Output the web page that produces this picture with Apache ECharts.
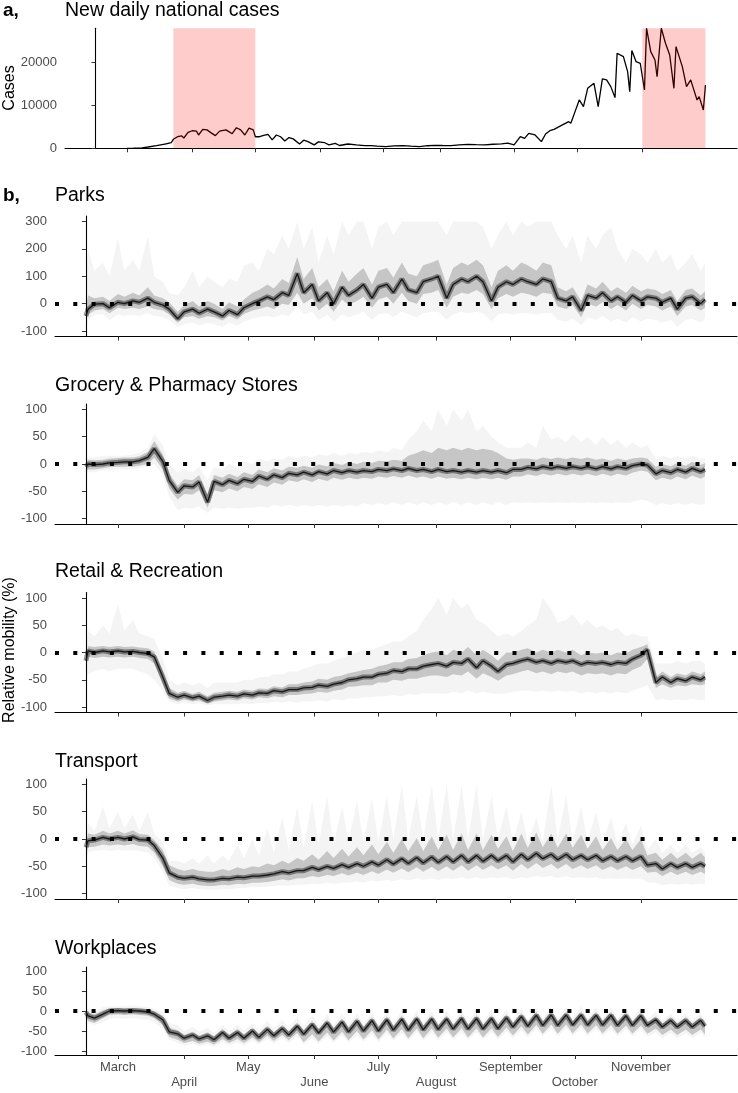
<!DOCTYPE html>
<html><head><meta charset="utf-8">
<script src="https://cdn.jsdelivr.net/npm/echarts@6/dist/echarts.min.js"></script>
<style>html,body{margin:0;padding:0;background:#fff}#c{width:738px;height:1093px}</style>
</head><body><div id="c"></div>
<script>
// ---------- x sampling (day index, 0 = 15 Feb 2020) ----------
const sampleDays = [0,1,4,8,11,15,18,22,25,29,
32,36,39,43,46,50,53,57,60,64,
67,71,74,78,81,85,88,92,95,99,
102,106,109,113,116,120,123,127,130,134,
137,141,144,148,151,155,158,162,165,169,
172,176,179,183,186,190,193,197,200,204,
207,211,214,218,221,225,228,232,235,239,
242,246,249,253,256,260,263,267,270,274,
277,281,284,288,290];
const monthTicks = [15,46,76,107,137,164,199,229,260];
const monthLabels = ['March','April','May','June','July','August','September','October','November'];

// ---------- panel a: national cases ----------
const caseDays = [15,18,22,25,29,33,36,37,39,41,42,44,46,48,49,51,53,55,57,59,62,63,65,67,69,71,73,75,76,78,80,82,84,86,88,90,92,94,97,99,101,104,106,109,111,114,116,120,124,128,131,
134,138,142,146,150,154,158,161,165,169,173,177,181,185,189,193,196,199,202,204,206,209,212,214,216,218,222,225,226,228,230,232,234,237,239,241,243,245,247,248,251,253,254,255,257,259,261,262,264,266,267,269,271,273,275,276,279,281,283,284,286,287,289,290];
const caseValues = [0,20,100,300,600,1000,1300,2100,2700,2900,2400,3700,4100,4000,3100,4400,4300,3600,2950,4000,4300,4000,3400,4800,4300,3100,4700,4300,2700,2700,3000,3250,1950,3100,2700,1700,2500,2200,1000,1900,1550,800,1500,1300,800,1150,650,1000,780,620,620,
500,390,550,620,500,390,600,700,650,620,800,930,850,780,950,1010,1200,780,2720,2330,3500,3110,1560,3350,4120,4430,5450,6220,5835,8560,11280,9725,14000,15170,9725,16180,15950,14390,11825,22170,21400,17900,13225,22800,20230,19840,13600,28000,22560,20600,16700,28000,24500,21780,14000,23730,19060,14400,15950,14400,11280,12060,8950,14780];
const lockdowns = [[37,76],[260,290]];

// ---------- panel b: mobility (median, inner band, outer band) ----------
const parksMed = [-45,-20,-2,0,-15,5,0,10,5,20, 5,-5,-20,-55,-30,-20,-35,-20,-30,-45, -25,-40,-15,0,10,25,15,40,30,110, 40,70,10,40,0,60,30,50,70,20, 60,70,40,90,50,40,80,90,100,20, 70,90,80,100,80,10,60,80,70,90, 80,70,90,80,20,10,25,-25,30,20, 40,10,25,5,30,10,25,20,5,20, -20,20,25,0,15];
const parksInLo = [-60,-40,-25,-20,-35,-15,-20,-15,-20,-10, -20,-25,-40,-70,-50,-45,-55,-45,-50,-62, -45,-58,-38,-25,-20,-10,-20,0,-5,40, 0,20,-25,0,-30,15,-5,10,25,-15, 15,25,0,40,10,0,35,40,50,-15, 25,40,35,50,35,-20,20,35,25,40, 35,25,40,35,-10,-20,-5,-50,0,-10, 5,-20,-5,-25,0,-20,-5,-10,-25,-10, -45,-10,-5,-25,-15];
const parksInHi = [-15,30,20,25,10,35,25,40,30,60, 30,20,5,-30,-5,10,-10,10,0,-20, 5,-10,15,40,50,70,55,90,75,170, 90,130,60,90,45,120,80,110,130,70, 120,130,95,150,110,100,140,150,160,70, 130,150,140,160,140,60,120,140,120,150, 140,120,150,140,60,45,60,10,70,55, 80,45,60,40,65,45,55,50,35,50, 10,50,55,30,45];
const parksOutLo = [-80,-60,-40,-40,-60,-40,-45,-40,-45,-35, -45,-50,-60,-85,-75,-70,-80,-70,-75,-85, -70,-80,-65,-55,-50,-45,-50,-40,-45,-10, -40,-30,-60,-40,-65,-40,-50,-40,-30,-60, -40,-35,-50,-30,-40,-50,-35,-30,-30,-60, -40,-30,-35,-30,-35,-65,-40,-35,-40,-35, -35,-40,-35,-35,-60,-65,-55,-80,-50,-60, -45,-65,-55,-70,-50,-65,-55,-60,-70,-60, -85,-60,-55,-70,-55];
const parksOutHi = [100,200,120,150,100,240,120,160,120,250, 100,80,40,30,60,120,60,100,80,60, 90,80,140,150,120,200,180,250,200,300, 200,280,150,250,180,300,250,300,300,200, 280,300,250,300,300,300,300,300,300,250, 300,300,300,300,280,200,250,300,250,300, 280,300,300,300,250,200,250,150,250,200, 250,280,200,150,200,180,150,200,150,180, 120,150,180,120,150];

const groceryMed = [-5,0,-1,0,2,3,4,4,6,12, 28,5,-30,-52,-40,-42,-33,-70,-32,-38, -30,-36,-28,-32,-22,-28,-20,-25,-17,-20, -15,-20,-14,-18,-12,-16,-12,-15,-12,-14, -10,-12,-9,-12,-8,-12,-10,-14,-10,-14, -12,-15,-12,-15,-12,-15,-12,-16,-10,-10, -6,-9,-5,-8,-5,-8,-5,-8,-5,-9, -5,-9,-5,-8,-3,0,-2,-18,-12,-16, -10,-15,-8,-14,-10];
const groceryInLo = [-15,-10,-10,-8,-6,-5,-5,-5,-3,0, 12,-10,-45,-65,-55,-56,-48,-80,-48,-52, -45,-50,-42,-46,-37,-42,-34,-38,-30,-33, -28,-33,-27,-31,-25,-29,-25,-28,-25,-27, -23,-25,-22,-25,-21,-25,-23,-27,-23,-27, -25,-28,-25,-28,-25,-28,-25,-29,-23,-23, -19,-22,-18,-21,-18,-21,-18,-21,-18,-22, -18,-22,-18,-21,-16,-12,-14,-30,-25,-29, -23,-28,-21,-27,-23];
const groceryInHi = [3,8,7,8,10,11,12,12,14,22, 42,18,-18,-40,-28,-30,-20,-55,-20,-25, -18,-24,-15,-20,-10,-15,-8,-12,-5,-7, -3,-7,-1,-4,2,-2,3,0,4,2, 6,5,8,6,15,20,25,20,30,25, 30,25,30,25,28,25,20,10,8,10, 10,8,12,9,12,9,12,9,12,8, 10,6,10,7,10,12,10,-5,0,-4, 2,-3,4,-2,2];
const groceryOutLo = [-20,-15,-15,-12,-12,-10,-10,-10,-8,-5, 0,-20,-60,-85,-80,-82,-78,-90,-80,-82, -80,-82,-80,-80,-78,-80,-75,-78,-75,-78, -75,-78,-75,-78,-75,-78,-75,-78,-72,-75, -72,-75,-70,-75,-70,-75,-70,-75,-70,-75, -70,-75,-70,-75,-70,-75,-70,-75,-70,-72, -70,-72,-70,-72,-70,-72,-70,-72,-70,-72, -70,-72,-70,-72,-70,-65,-68,-75,-72,-75, -72,-75,-72,-75,-72];
const groceryOutHi = [10,12,12,15,15,15,15,18,20,30, 55,35,0,-15,-10,-15,-5,-30,-5,-10, 0,-5,5,0,10,5,10,8,15,10, 15,12,18,15,20,15,20,18,22,20, 25,22,30,25,45,60,80,60,100,70, 100,80,100,60,70,50,40,30,30,30, 40,30,70,45,50,40,55,40,50,35, 50,35,45,30,40,30,35,10,15,10, 15,10,15,10,10];

const retailMed = [-15,3,0,3,1,3,1,2,0,-2, -8,-45,-75,-82,-78,-83,-80,-88,-82,-80, -78,-80,-76,-78,-74,-75,-70,-72,-68,-68, -65,-64,-60,-62,-58,-55,-50,-48,-45,-45, -40,-38,-33,-35,-30,-30,-25,-22,-20,-25, -18,-20,-12,-28,-15,-25,-35,-22,-20,-15, -12,-18,-15,-20,-15,-18,-15,-22,-18,-20, -18,-22,-18,-20,-12,-5,5,-55,-45,-55, -48,-52,-45,-50,-45];
const retailInLo = [-30,-8,-10,-8,-9,-8,-9,-8,-10,-12, -20,-58,-85,-90,-86,-90,-88,-94,-90,-88, -86,-88,-84,-86,-82,-84,-80,-82,-78,-78, -76,-75,-72,-74,-70,-68,-63,-62,-60,-60, -55,-55,-50,-52,-48,-48,-45,-42,-42,-45, -40,-42,-35,-48,-38,-45,-52,-42,-40,-35, -32,-38,-35,-40,-35,-38,-35,-42,-38,-40, -38,-42,-38,-40,-32,-25,-12,-65,-58,-65, -60,-62,-58,-60,-58];
const retailInHi = [-5,12,10,12,10,12,10,11,9,8, 2,-35,-65,-74,-70,-76,-72,-80,-74,-72, -70,-72,-68,-70,-66,-67,-62,-64,-58,-58, -55,-53,-48,-50,-45,-42,-38,-35,-32,-30, -25,-22,-18,-18,-12,-10,-5,0,2,-5, 5,0,10,-5,5,-5,-15,0,0,5, 8,0,5,0,5,0,5,-5,0,-2, 0,-5,0,-2,5,10,15,-45,-35,-45, -38,-42,-35,-40,-35];
const retailOutLo = [-45,-40,-35,-30,-35,-30,-30,-30,-35,-40, -50,-70,-90,-95,-92,-95,-93,-97,-95,-95, -95,-95,-93,-95,-92,-93,-90,-92,-90,-92, -90,-90,-88,-90,-86,-88,-85,-85,-82,-82, -80,-80,-78,-80,-76,-78,-75,-75,-75,-76, -72,-75,-70,-75,-72,-75,-76,-75,-72,-70, -70,-72,-70,-72,-70,-72,-70,-75,-72,-75, -72,-75,-72,-75,-70,-65,-60,-88,-85,-88, -86,-88,-85,-88,-86];
const retailOutHi = [10,40,30,50,35,90,40,60,35,30, 25,-10,-50,-60,-55,-60,-55,-65,-55,-55, -55,-55,-50,-50,-45,-45,-40,-40,-35,-35, -30,-25,-20,-20,-15,-10,-5,0,5,5, 10,15,20,20,30,40,60,80,100,70, 100,80,90,60,55,40,30,35,30,40, 50,60,100,80,55,60,70,50,60,45, 50,40,45,30,35,30,30,-20,-20,-20, -15,-20,-15,-15,-20];

const transportMed = [-15,-3,-2,3,0,3,0,4,-1,-2, -12,-35,-62,-70,-72,-70,-73,-75,-75,-72, -73,-70,-71,-68,-68,-66,-64,-60,-62,-58, -58,-52,-56,-50,-54,-47,-52,-45,-50,-42, -48,-38,-46,-36,-45,-34,-44,-33,-43,-32, -42,-30,-42,-30,-41,-30,-40,-30,-42,-28, -38,-26,-36,-28,-38,-28,-38,-30,-38,-30, -40,-32,-40,-32,-40,-32,-48,-45,-55,-45, -52,-45,-52,-45,-50];
const transportInLo = [-30,-15,-14,-10,-12,-10,-12,-9,-13,-14, -25,-50,-75,-82,-84,-82,-85,-86,-86,-84, -85,-82,-83,-80,-80,-79,-77,-74,-76,-72, -72,-68,-70,-66,-68,-63,-67,-62,-66,-59, -64,-56,-62,-54,-61,-52,-60,-51,-59,-50, -58,-48,-58,-48,-57,-48,-56,-48,-58,-46, -55,-44,-53,-46,-55,-46,-55,-48,-55,-48, -57,-50,-57,-50,-57,-50,-62,-60,-68,-60, -66,-60,-66,-60,-64];
const transportInHi = [-5,10,8,15,10,15,10,16,9,8, -2,-20,-48,-55,-58,-55,-58,-60,-60,-55, -58,-52,-55,-50,-52,-45,-48,-40,-45,-35, -40,-28,-38,-22,-35,-18,-32,-15,-30,-10, -28,-5,-25,0,-22,2,-22,5,-20,8, -20,10,-20,10,-20,8,-18,5,-22,10, -16,12,-15,10,-16,10,-16,8,-18,5, -20,2,-20,0,-20,0,-30,-25,-38,-25, -36,-25,-36,-25,-34];
const transportOutLo = [-35,-25,-22,-20,-22,-20,-22,-20,-22,-25, -35,-60,-85,-90,-92,-90,-92,-93,-93,-92, -92,-90,-90,-88,-88,-87,-86,-85,-86,-84, -84,-82,-83,-80,-82,-80,-80,-78,-80,-76, -78,-75,-77,-74,-76,-72,-75,-72,-75,-72, -74,-70,-74,-70,-73,-70,-72,-70,-74,-70, -72,-68,-70,-68,-72,-68,-72,-70,-72,-70, -74,-72,-74,-72,-74,-72,-80,-80,-85,-82, -84,-82,-84,-82,-84];
const transportOutHi = [-5,30,15,60,20,50,20,45,15,50, 10,-5,-40,-40,-45,-35,-45,-30,-45,-30, -40,-10,-35,0,-30,20,-25,40,-20,60, -15,70,-10,80,-10,60,-5,70,-5,75, -5,80,0,100,0,80,0,100,0,100, 0,100,0,100,0,80,0,60,-5,50, -5,40,-5,100,0,80,-5,60,-5,50, -5,40,-10,30,-10,25,-20,0,-25,-10, -25,-10,-25,-15,-25];

const workMed = [-3,-12,-18,-8,0,1,0,1,0,-2, -8,-22,-52,-57,-68,-60,-70,-62,-72,-54, -68,-54,-68,-50,-66,-46,-62,-44,-60,-38, -58,-34,-55,-30,-53,-28,-52,-26,-50,-24, -50,-22,-48,-21,-48,-20,-47,-20,-46,-20, -45,-19,-45,-19,-45,-19,-44,-17,-40,-14, -38,-11,-36,-10,-36,-10,-35,-10,-35,-11, -35,-11,-36,-12,-36,-12,-36,-22,-40,-24, -40,-24,-40,-24,-38];
const workInLo = [-15,-25,-30,-18,-10,-8,-10,-8,-10,-12, -18,-35,-65,-72,-80,-75,-82,-77,-84,-70, -80,-70,-80,-66,-78,-62,-75,-60,-73,-55, -78,-58,-76,-54,-74,-52,-73,-50,-71,-48, -71,-46,-69,-45,-69,-44,-68,-44,-67,-44, -66,-43,-66,-43,-66,-43,-65,-41,-61,-38, -59,-35,-57,-34,-57,-34,-56,-34,-56,-35, -56,-35,-57,-36,-57,-36,-57,-44,-60,-46, -60,-46,-60,-46,-58];
const workInHi = [5,-3,-8,2,6,7,6,7,6,5, -1,-12,-42,-48,-60,-52,-62,-53,-63,-45, -60,-45,-60,-41,-58,-37,-54,-35,-52,-29, -50,-25,-47,-21,-45,-19,-44,-17,-42,-15, -42,-13,-40,-12,-40,-11,-39,-11,-38,-11, -37,-10,-37,-10,-37,-10,-36,-8,-32,-5, -30,-2,-28,-1,-28,-1,-27,-1,-27,-2, -27,-2,-28,-3,-28,-3,-28,-13,-32,-15, -32,-15,-32,-15,-30];
const workOutLo = [-25,-30,-35,-28,-20,-18,-20,-18,-20,-22, -28,-45,-72,-80,-86,-82,-88,-84,-90,-78, -86,-78,-86,-74,-84,-70,-82,-68,-80,-64, -84,-68,-82,-64,-80,-62,-79,-60,-77,-58, -77,-56,-75,-55,-75,-54,-74,-54,-73,-54, -72,-53,-72,-53,-72,-53,-71,-51,-68,-48, -66,-45,-64,-44,-64,-44,-63,-44,-63,-45, -63,-45,-64,-46,-64,-46,-64,-53,-68,-55, -68,-55,-68,-55,-66];
const workOutHi = [10,5,0,10,12,12,12,14,12,10, 5,-2,-30,-35,-50,-40,-52,-42,-55,-35, -50,-35,-50,-30,-48,-25,-45,-22,-42,-15, -40,-10,-38,-8,-36,-6,-35,-5,-33,-3, -33,0,-31,0,-31,2,-30,2,-29,2, -28,3,-28,3,-28,3,-27,5,-24,8, -22,10,-20,10,-20,10,-19,12,-19,10, -19,10,-20,8,-20,8,-20,-2,-25,-5, -25,-5,-25,-5,-22];

const panelTitles = ['Parks','Grocery & Pharmacy Stores','Retail & Recreation','Transport','Workplaces'];
const parksTicks = [-100,0,100,200,300];
const otherTicks = [-100,-50,0,50,100];

// ---------- build ----------
const FONT = '"Liberation Sans", Arial, Helvetica, sans-serif';
const panels = [
  {med:parksMed, ilo:parksInLo, ihi:parksInHi, lo:parksOutLo, hi:parksOutHi, ticks:parksTicks, min:-120, max:320, top:216, h:120.5},
  {med:groceryMed, ilo:groceryInLo, ihi:groceryInHi, lo:groceryOutLo, hi:groceryOutHi, ticks:otherTicks, min:-110, max:110, top:404, h:120},
  {med:retailMed, ilo:retailInLo, ihi:retailInHi, lo:retailOutLo, hi:retailOutHi, ticks:otherTicks, min:-110, max:110, top:592.5, h:120},
  {med:transportMed, ilo:transportInLo, ihi:transportInHi, lo:transportOutLo, hi:transportOutHi, ticks:otherTicks, min:-110, max:110, top:779, h:120},
  {med:workMed, ilo:workInLo, ihi:workInHi, lo:workOutLo, hi:workOutHi, ticks:otherTicks, min:-110, max:110, top:967, h:88}
];
const titleY = [196, 385.5, 572, 761.5, 949];

const pts = v => sampleDays.map((d,i)=>[d, v[i]]);

const axisLineStyle = {color:'#000', width:1.1};
const tickStyle = {color:'#333', width:1};
const labelStyle = {color:'#4d4d4d', fontSize:13, fontFamily:FONT};

const grids = [{left:65, width:672, top:28.3, height:120}];
const xAxes = [], yAxes = [], series = [];
const XMIN = -14.5, XMAX = 305;

function xAxisFor(g, showLabels){
  return {type:'value', gridIndex:g, min:XMIN, max:XMAX,
    axisLine:{show:true, onZero:false, lineStyle:axisLineStyle},
    axisTick:{show:true, customValues:monthTicks, length:4, lineStyle:tickStyle},
    axisLabel:{show:showLabels, customValues:monthTicks, margin:5, lineHeight:15, ...labelStyle,
      formatter:v=>{const i = monthTicks.findIndex(t=>Math.abs(t-v)<0.01); if(i<0) return ''; return i%2 ? '\n'+monthLabels[i] : monthLabels[i];}},
    splitLine:{show:false}};
}
function bandSeries(g, lo, hi, color){
  return {type:'custom', xAxisIndex:g, yAxisIndex:g, silent:true, z:1, clip:true,
    data:[[sampleDays[0], lo[0]]],
    renderItem:(params, api)=>{
      const up = sampleDays.map((d,i)=>api.coord([d, hi[i]]));
      const dn = sampleDays.map((d,i)=>api.coord([d, lo[i]])).reverse();
      return {type:'polygon', shape:{points:up.concat(dn)}, style:{fill:color}};
    }};
}
xAxes.push(xAxisFor(0,false));
yAxes.push({type:'value', gridIndex:0, min:0, max:28000,
  axisLine:{show:true, lineStyle:axisLineStyle},
  axisTick:{show:true, customValues:[0,10000,20000], length:4, lineStyle:tickStyle},
  axisLabel:{customValues:[0,10000,20000], margin:8, ...labelStyle, formatter:v=>String(v)},
  splitLine:{show:false}});
series.push({type:'line', xAxisIndex:0, yAxisIndex:0, data:caseDays.map((d,i)=>[d,caseValues[i]]),
  symbol:'none', lineStyle:{color:'#000', width:1.3}, z:2,
  markArea:{silent:true, z:5, itemStyle:{color:'rgba(255,0,0,0.2)'}, data:lockdowns.map(([a,b])=>[{xAxis:a},{xAxis:b}])}});

panels.forEach((P,k)=>{
  const g = k+1;
  grids.push({left:55, width:682, top:P.top, height:P.h});
  xAxes.push(xAxisFor(g, k===4));
  yAxes.push({type:'value', gridIndex:g, min:P.min, max:P.max,
    axisLine:{show:true, lineStyle:axisLineStyle},
    axisTick:{show:true, customValues:P.ticks, length:4, lineStyle:tickStyle},
    axisLabel:{customValues:P.ticks, margin:8, ...labelStyle},
    splitLine:{show:false}});
  series.push(bandSeries(g, P.lo, P.hi, 'rgba(0,0,0,0.045)'));
  series.push(bandSeries(g, P.ilo, P.ihi, 'rgba(0,0,0,0.19)'));
  const base = {type:'line', xAxisIndex:g, yAxisIndex:g, symbol:'none', silent:true};
  series.push({...base, data:pts(P.med), lineStyle:{color:'rgba(0,0,0,0.4)', width:5}, z:2});
  series.push({...base, data:pts(P.med), lineStyle:{color:'#151515', width:1.3}, z:3,
    markLine:{silent:true, symbol:'none', z:10, label:{show:false},
      lineStyle:{color:'#000', width:4, type:[4,14.3], cap:'butt'}, data:[{yAxis:0}]}});
});

const TITLE = '19.5px '+FONT;
const graphic = [
  {type:'text', x:3, y:10.5, style:{text:'a,', font:'bold 19px '+FONT, fill:'#000', align:'left', verticalAlign:'middle'}},
  {type:'text', x:65, y:10.5, style:{text:'New daily national cases', font:TITLE, fill:'#000', align:'left', verticalAlign:'middle'}},
  {type:'text', x:9.5, y:88, rotation:Math.PI/2, style:{text:'Cases', font:'16px '+FONT, fill:'#000', align:'center', verticalAlign:'middle'}},
  {type:'text', x:3, y:titleY[0], style:{text:'b,', font:'bold 19px '+FONT, fill:'#000', align:'left', verticalAlign:'middle'}},
  {type:'text', x:9.5, y:650, rotation:Math.PI/2, style:{text:'Relative mobility (%)', font:'16px '+FONT, fill:'#000', align:'center', verticalAlign:'middle'}}
];
panelTitles.forEach((t,k)=>graphic.push({type:'text', x:55, y:titleY[k], style:{text:t, font:TITLE, fill:'#000', align:'left', verticalAlign:'middle'}}));

const chart = echarts.init(document.getElementById('c'), null, {renderer:'canvas'});
chart.setOption({animation:false, backgroundColor:'#fff', grid:grids, xAxis:xAxes, yAxis:yAxes, series:series, graphic:graphic});
</script></body></html>
